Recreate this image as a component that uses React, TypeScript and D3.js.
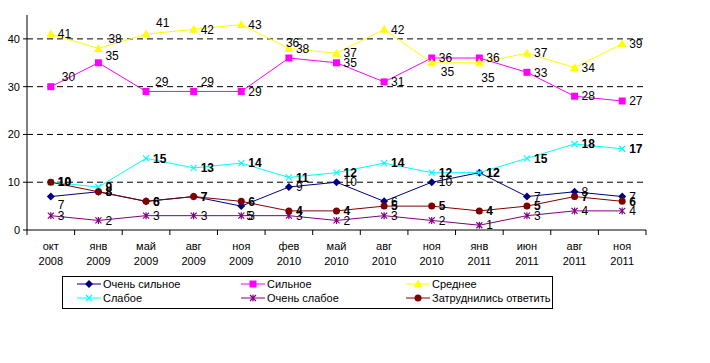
import * as d3 from 'd3';

const months = ['окт', 'янв', 'май', 'авг', 'ноя', 'фев', 'май', 'авг', 'ноя', 'янв', 'июн', 'авг', 'ноя'];
const years = ['2008', '2009', '2009', '2009', '2009', '2010', '2010', '2010', '2010', '2011', '2011', '2011', '2011'];

const veryStrong = [7, 8, 6, 7, 5, 9, 10, 6, 10, 12, 7, 8, 7];
const strong = [30, 35, 29, 29, 29, 36, 35, 31, 36, 36, 33, 28, 27];
const medium = [41, 38, 41, 42, 43, 38, 37, 42, 35, 35, 37, 34, 39];
const weak = [10, 9, 15, 13, 14, 11, 12, 14, 12, 12, 15, 18, 17];
const veryWeak = [3, 2, 3, 3, 3, 3, 2, 3, 2, 1, 3, 4, 4];
const hardToSay = [10, 8, 6, 7, 6, 4, 4, 5, 5, 4, 5, 7, 6];

const yTicks = [0, 10, 20, 30, 40];

type Series = { name: string; values: number[]; color: string; marker: string; bold: boolean };

const series: Series[] = [
  { name: 'Очень сильное', values: veryStrong, color: '#000080', marker: 'diamond', bold: false },
  { name: 'Сильное', values: strong, color: '#FF00FF', marker: 'square', bold: false },
  { name: 'Среднее', values: medium, color: '#FFFF00', marker: 'triangle', bold: false },
  { name: 'Слабое', values: weak, color: '#00FFFF', marker: 'x', bold: true },
  { name: 'Очень слабое', values: veryWeak, color: '#800080', marker: 'star', bold: false },
  { name: 'Затруднились ответить', values: hardToSay, color: '#800000', marker: 'circle', bold: true },
];

// label nudges (dx, dy) for points where the labels are moved, like in the original
const labelNudge: Record<string, Record<number, [number, number]>> = {
  'Очень сильное': { 0: [0, 8], 4: [-2, 10] },
  'Сильное': { 0: [4, -10], 1: [0, -7], 2: [2, -10], 3: [0, -10], 5: [-10, -15] },
  'Среднее': { 1: [3, -10], 2: [3, -11], 8: [2, 9], 9: [-5, 15] },
};

const W = 710;
const H = 363;
const margin = { left: 27, right: 64, top: 15, bottom: 133 };

function Marker({ kind, x, y, color }: { kind: string; x: number; y: number; color: string }) {
  if (kind === 'diamond') {
    return <path d={`M${x},${y - 4}L${x + 4},${y}L${x},${y + 4}L${x - 4},${y}Z`} fill={color} />;
  }
  if (kind === 'square') {
    return <rect x={x - 3.5} y={y - 3.5} width={7} height={7} fill={color} />;
  }
  if (kind === 'triangle') {
    return <path d={`M${x},${y - 4.5}L${x + 4.5},${y + 3.5}L${x - 4.5},${y + 3.5}Z`} fill={color} />;
  }
  if (kind === 'x') {
    return <path d={`M${x - 3},${y - 3}L${x + 3},${y + 3}M${x - 3},${y + 3}L${x + 3},${y - 3}`} stroke={color} strokeWidth={1.2} />;
  }
  if (kind === 'star') {
    return (
      <path
        d={`M${x - 3},${y - 3}L${x + 3},${y + 3}M${x - 3},${y + 3}L${x + 3},${y - 3}M${x},${y - 3.5}L${x},${y + 3.5}`}
        stroke={color}
        strokeWidth={1.2}
      />
    );
  }
  return <circle cx={x} cy={y} r={3.5} fill={color} />;
}

export default function App() {
  const innerW = W - margin.left - margin.right;
  const innerH = H - margin.top - margin.bottom;

  const x = d3
    .scaleBand<number>()
    .domain(d3.range(months.length))
    .range([margin.left, margin.left + innerW]);
  const y = d3.scaleLinear().domain([0, 45]).range([margin.top + innerH, margin.top]);
  const cx = (i: number) => (x(i) as number) + x.bandwidth() / 2;

  const line = d3
    .line<number>()
    .x((_, i) => cx(i))
    .y((d) => y(d));

  const legendCols = [77, 241, 406];
  const legendRows = [284, 298];

  return (
    <svg
      width={W}
      height={H}
      style={{ position: 'absolute', left: 0, top: 0, background: '#fff' }}
      fontFamily="'Liberation Sans', Arial, sans-serif"
    >
      <rect width={W} height={H} fill="#fff" />
      {yTicks
        .filter((t) => t > 0)
        .map((t) => (
          <line
            key={'g' + t}
            x1={margin.left}
            x2={margin.left + innerW}
            y1={y(t)}
            y2={y(t)}
            stroke="#000"
            strokeDasharray="6,4"
          />
        ))}
      {/* оси */}
      <line x1={margin.left} x2={margin.left} y1={margin.top} y2={y(0)} stroke="#000" />
      <line x1={margin.left} x2={margin.left + innerW} y1={y(0)} y2={y(0)} stroke="#000" />
      {yTicks.map((t) => (
        <g key={'yt' + t}>
          <line x1={margin.left - 4} x2={margin.left} y1={y(t)} y2={y(t)} stroke="#000" />
          <text x={margin.left - 7} y={y(t)} dy="0.35em" textAnchor="end" fontSize={11}>
            {t}
          </text>
        </g>
      ))}
      {d3.range(months.length + 1).map((i) => {
        const px = i < months.length ? (x(i) as number) : margin.left + innerW;
        return <line key={'xt' + i} x1={px} x2={px} y1={y(0)} y2={y(0) + 5} stroke="#000" />;
      })}
      {months.map((m, i) => (
        <g key={'xl' + i}>
          <text x={cx(i)} y={y(0) + 20} textAnchor="middle" fontSize={11}>
            {m}
          </text>
          <text x={cx(i)} y={y(0) + 35} textAnchor="middle" fontSize={11}>
            {years[i]}
          </text>
        </g>
      ))}
      {series.map((s) => (
        <g key={s.name}>
          <path d={line(s.values) || ''} fill="none" stroke={s.color} strokeWidth={1} />
          {s.values.map((v, i) => (
            <Marker key={i} kind={s.marker} x={cx(i)} y={y(v)} color={s.color} />
          ))}
        </g>
      ))}
      {series.map((s) => (
        <g key={'lab' + s.name}>
          {s.values.map((v, i) => {
            const n = (labelNudge[s.name] || {})[i] || [0, 0];
            return (
              <text
                key={'l' + i}
                x={cx(i) + 7 + n[0]}
                y={y(v) + n[1]}
                dy="0.35em"
                fontSize={12}
                fontWeight={s.bold ? 'bold' : 'normal'}
                fill="#000"
              >
                {v}
              </text>
            );
          })}
        </g>
      ))}
      {/* легенда */}
      <rect x={62.5} y={276.5} width={490} height={32} fill="none" stroke="#000" />
      {series.map((s, k) => {
        const lx = legendCols[k % 3];
        const ly = legendRows[Math.floor(k / 3)];
        return (
          <g key={'lg' + k}>
            <line x1={lx} x2={lx + 24} y1={ly} y2={ly} stroke={s.color} />
            <Marker kind={s.marker} x={lx + 12} y={ly} color={s.color} />
            <text x={lx + 26} y={ly} dy="0.35em" fontSize={11}>
              {s.name}
            </text>
          </g>
        );
      })}
    </svg>
  );
}
